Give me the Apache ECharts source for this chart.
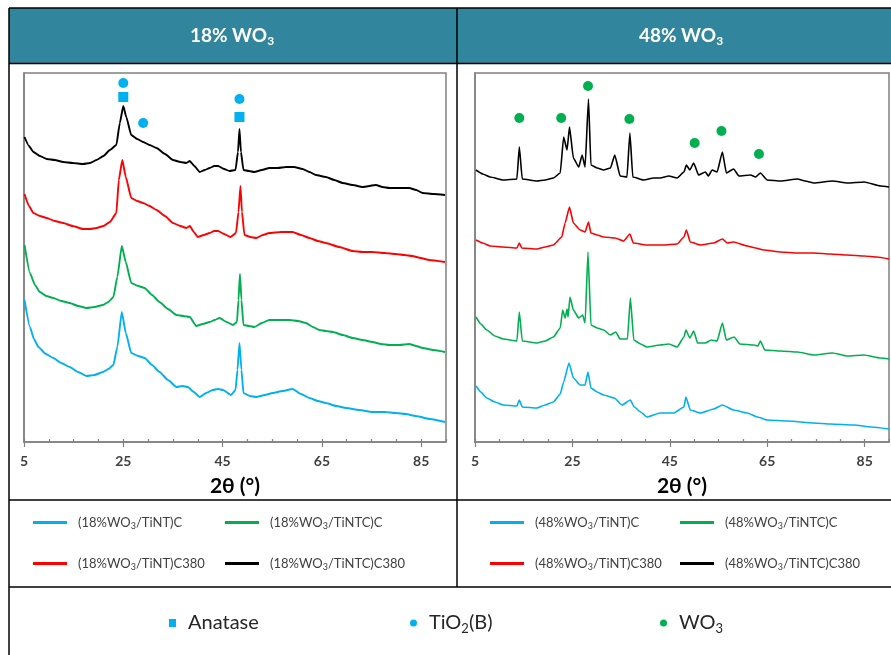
<!DOCTYPE html>
<html>
<head>
<meta charset="utf-8">
<script src="https://cdn.jsdelivr.net/npm/echarts@6/dist/echarts.min.js"></script>
<style>
    html, body {margin: 0; padding: 0; background: #fff;}
    #main {width: 891px; height: 655px;}
</style>
</head>
<body>
<div id="main"></div>
<script>
// x = 2θ (°), y = intensity (a.u., curves offset as in the figure)
var aTicks = [5, 25, 45, 65, 85];

// 18% WO3 panel
var a18TiNTC380 = [[5.1,305],[6.0,296],[6.9,290],[8.2,286],[9.6,283],[11.2,282],[12.9,280],[14.8,279],[16.9,278],[18.3,279],[19.6,282],[21.0,286],[22.3,292],[23.6,297],[24.3,319],[25.0,336],[25.6,325],[26.6,307],[27.8,303],[29.0,300],[30.3,297],[31.7,294],[33.4,288],[35.0,282],[36.5,280],[37.7,279],[38.4,281],[39.3,276],[40.4,270],[41.4,272],[42.4,274],[43.3,276],[44.1,276],[45.3,273],[46.4,271],[47.6,272],[48.1,290],[48.4,313],[48.7,290],[49.2,272],[50.3,271],[51.4,270],[52.9,272],[54.4,274],[56.1,274],[57.8,275],[59.4,275],[61.1,273],[62.5,270],[63.8,267],[65.8,265],[67.5,262],[69.2,259],[71.2,257],[73.2,255],[75.9,257],[77.2,255],[78.6,254],[80.6,254],[82.6,254],[84.0,252],[85.3,249],[87.5,248],[89.8,247]];
var a18TiNT380 = [[5.1,248],[6.0,236],[6.9,229],[8.2,226],[9.6,224],[11.2,221],[12.9,219],[14.8,216],[16.9,213],[18.3,213],[19.6,214],[21.0,216],[22.3,220],[23.6,229],[24.1,262],[24.8,282],[25.5,265],[26.6,244],[27.8,241],[29.0,239],[30.3,236],[31.7,232],[33.4,226],[35.0,219],[36.5,216],[37.7,214],[38.4,216],[39.2,210],[40.0,205],[41.2,207],[42.4,209],[43.3,211],[44.1,211],[45.3,208],[46.6,205],[47.7,209],[48.2,230],[48.6,256],[48.9,230],[49.4,207],[50.6,205],[51.8,204],[53.1,207],[54.4,209],[56.8,210],[59.1,210],[60.8,207],[62.5,204],[64.2,201],[65.8,199],[68.5,195],[71.2,191],[73.2,190],[75.2,190],[77.6,189],[79.9,188],[81.6,187],[83.2,186],[84.9,184],[86.6,182],[89.8,180]];
var a18TiNTC = [[5.1,197],[6.2,169],[7.2,157],[8.2,150],[9.5,146],[10.9,144],[12.5,141],[14.2,139],[15.9,136],[17.6,134],[19.2,135],[20.9,137],[22.0,140],[23.0,145],[23.8,165],[24.7,196],[25.5,180],[26.6,159],[28.0,156],[29.3,154],[30.8,147],[32.3,140],[34.0,133],[35.7,127],[37.1,126],[38.4,125],[39.7,116],[41.0,118],[42.4,120],[43.4,122],[44.4,124],[45.8,120],[47.1,117],[47.9,120],[48.2,142],[48.5,168],[48.8,142],[49.2,117],[50.3,116],[51.4,115],[52.9,119],[54.4,122],[56.5,122],[58.5,122],[60.2,121],[61.8,119],[63.2,115],[64.5,112],[65.8,111],[67.2,110],[69.2,107],[71.2,104],[73.2,102],[75.2,100],[76.9,98],[78.6,97],[80.6,97],[82.6,98],[84.0,96],[85.3,94],[87.5,92],[89.8,90]];
var a18TiNT = [[5.1,142],[6.2,115],[7.0,103],[7.9,95],[9.4,88],[10.9,84],[12.5,79],[14.2,75],[15.9,70],[17.6,66],[19.2,67],[20.9,70],[22.0,73],[23.0,77],[23.8,95],[24.7,130],[25.5,109],[26.6,89],[28.0,86],[29.3,84],[30.8,77],[32.3,70],[34.0,62],[35.7,55],[36.9,56],[38.0,55],[39.2,50],[40.4,45],[41.7,49],[43.0,52],[44.1,53],[45.1,52],[46.7,47],[47.6,52],[48.0,72],[48.4,99],[48.8,72],[49.2,49],[50.5,46],[51.8,45],[53.5,47],[55.1,49],[57.1,51],[59.1,53],[60.8,48],[62.5,44],[64.2,41],[65.8,39],[67.9,36],[69.9,34],[72.5,32],[75.2,30],[77.6,30],[79.9,29],[81.9,28],[83.9,26],[86.8,23],[89.8,20]];
var aAnatase = [[25.0,345],[48.4,325]];
var aTiO2B = [[25.0,359],[29.0,319],[48.4,343]];

// 48% WO3 panel
var a48TiNTC380 = [[5.2,272],[6.6,268],[8.1,265],[10.8,262],[13.6,263],[14.1,295],[14.7,263],[17.7,261],[19.4,262],[21.1,264],[22.5,269],[23.2,305],[23.9,292],[24.4,315],[25.2,284],[26.3,275],[27.0,287],[27.6,275],[28.3,343],[28.8,277],[30.1,274],[31.4,272],[32.8,274],[33.7,287],[34.8,266],[36.2,265],[36.8,309],[37.4,265],[39.6,262],[41.7,264],[43.0,264],[44.8,266],[46.5,264],[47.9,270],[48.4,277],[49.1,272],[49.9,279],[50.9,267],[52.3,270],[52.9,266],[53.7,272],[54.7,270],[55.8,290],[56.6,269],[58.1,273],[59.2,266],[61.6,267],[62.6,265],[63.6,269],[65.0,262],[67.8,261],[71.2,263],[72.8,261],[74.6,259],[78.4,261],[81.5,259],[84.9,260],[88.3,256],[90,255]];
var a48TiNT380 = [[5.2,202],[6.6,199],[8.1,196],[10.8,195],[13.6,194],[14.1,199],[14.6,194],[17.7,193],[19.4,195],[21.1,197],[22.8,205],[23.5,219],[24.4,235],[25.2,219],[26.6,212],[27.6,210],[28.3,220],[28.8,209],[30.1,207],[31.4,205],[33.8,204],[35.5,201],[36.8,208],[37.5,199],[40.2,197],[43.6,197],[46.5,198],[47.9,205],[48.4,212],[49.2,200],[51.3,197],[54.0,199],[55.8,203],[56.8,199],[58.1,200],[60.9,196],[62.6,194],[64.3,192],[67.8,190],[71.2,189],[74.6,189],[78.0,188],[81.5,187],[84.9,186],[87.5,185],[90,183]];
var a48TiNTC = [[5.2,125],[6.2,118],[7.4,112],[9.1,106],[10.8,103],[13.6,101],[14.1,130],[14.7,101],[17.7,99],[19.4,101],[21.1,105],[22.5,114],[23.0,132],[23.5,124],[23.9,133],[24.1,125],[24.5,145],[25.2,132],[26.3,124],[27.1,127],[27.6,119],[28.2,190],[28.8,117],[30.1,114],[31.4,112],[32.8,107],[33.9,110],[34.8,103],[36.3,103],[36.9,144],[37.6,102],[39.0,98],[40.3,95],[43.0,97],[44.8,98],[46.5,95],[47.9,105],[48.3,112],[49.1,104],[49.9,111],[50.7,99],[52.3,99],[53.5,102],[54.7,101],[55.8,119],[56.6,102],[58.2,105],[59.4,98],[62.3,97],[63.1,96],[63.6,101],[64.5,92],[67.8,91],[71.2,90],[74.6,87],[78.4,89],[81.5,86],[84.8,87],[88.3,84],[90,83]];
var a48TiNT = [[5.2,56],[6.2,50],[7.4,44],[9.1,40],[10.8,37],[13.6,36],[14.1,42],[14.7,35],[17.7,34],[19.4,37],[21.1,40],[22.5,48],[23.2,60],[24.3,79],[25.2,64],[26.6,57],[27.6,57],[28.2,70],[28.8,54],[30.1,50],[31.4,47],[33.6,44],[35.2,37],[36.9,42],[37.7,35],[39.0,30],[40.3,25],[43.0,29],[45.8,29],[47.9,35],[48.3,45],[49.2,32],[51.3,29],[54.0,33],[55.8,37],[58.1,32],[60.9,29],[63.0,25],[65.0,22],[69.2,21],[74.6,19],[78.0,18],[82.8,17],[86.4,15],[90,13]];
var aWO3 = [[14.1,324],[22.7,324],[28.2,356],[36.7,323],[50.1,299],[55.6,311],[63.3,288]];

var sFont = 'Lato, "Open Sans", sans-serif';
var sBlue = '#00b0f0', sGreen = '#00b050', sRed = '#ff0000', sBlack = '#000000';

function FormatName(sName) {
    return sName.replace('WO3', 'WO{sub|3}').replace('TiO2', 'TiO{sub|2}');
}

function LineSeries(sName, aData, sColor, iPanel) {
    return {
        name: sName,
        type: 'line',
        xAxisIndex: iPanel * 2,
        yAxisIndex: iPanel,
        data: aData,
        symbol: 'none',
        smooth: 0.15,
        smoothMonotone: 'x',
        lineStyle: {color: sColor, width: iPanel == 0 ? 1.9 : 1.6},
        itemStyle: {color: sColor},
        animation: false
    };
}

function MarkSeries(sName, aData, sColor, sSymbol, iPanel) {
    return {
        name: sName,
        type: 'scatter',
        xAxisIndex: iPanel * 2,
        yAxisIndex: iPanel,
        data: aData,
        symbol: sSymbol,
        symbolSize: 10,
        itemStyle: {color: sColor, opacity: 1},
        z: 5,
        animation: false
    };
}

function XAxes(iGrid) {
    return [
        {
            gridIndex: iGrid, type: 'value', min: 5, max: 90, interval: 20,
            name: '2θ (°)', nameLocation: 'middle', nameGap: 34,
            nameTextStyle: {fontFamily: sFont, fontSize: 21, fontWeight: 'bold', color: '#000'},
            axisLine: {onZero: false, lineStyle: {color: '#808080', width: 1.5}},
            axisTick: {length: 5, lineStyle: {color: '#808080', width: 1.2}},
            axisLabel: {showMaxLabel: false, margin: 12, fontFamily: sFont, fontSize: 14, fontWeight: 'bold', color: '#404040'},
            splitLine: {show: false}
        },
        {
            gridIndex: iGrid, type: 'value', min: 5, max: 90, interval: 5,
            axisLine: {show: false},
            axisTick: {length: 3, lineStyle: {color: '#808080', width: 1.2}},
            axisLabel: {show: false},
            splitLine: {show: false}
        }
    ];
}

function YAxis(iGrid) {
    return {
        gridIndex: iGrid, type: 'value', min: 0, max: 369,
        axisLine: {show: true, lineStyle: {color: '#808080', width: 1.5}},
        axisTick: {show: false}, axisLabel: {show: false}, splitLine: {show: false}
    };
}

function LegendItem(sName, iLeft, iTop, iSize) {
    var bBig = iSize > 15;
    return {
        data: [{name: sName, icon: bBig ? (sName == 'Anatase' ? 'rect' : 'circle') : 'rect'}],
        left: iLeft, top: iTop, padding: 0,
        itemWidth: bBig ? 7 : 34, itemHeight: bBig ? 8 : 3,
        selectedMode: false,
        formatter: FormatName,
        textStyle: {
            fontFamily: sFont, fontSize: iSize, color: bBig ? '#262626' : '#404040',
            padding: [0, 0, 0, bBig ? 7 : 6],
            rich: {sub: {fontFamily: sFont, fontSize: bBig ? 13 : 9, color: bBig ? '#262626' : '#404040', padding: [bBig ? 11 : 8, 0, 0, 0]}}
        }
    };
}

function HeaderText(iX, sPct) {
    return {
        type: 'text', x: iX, y: 36, z: 10,
        style: {
            text: '{m|' + sPct + ' WO}{s|3}',
            align: 'center', verticalAlign: 'middle',
            rich: {
                m: {fontFamily: sFont, fontSize: 19, fontWeight: 'bold', fill: '#fff', color: '#fff'},
                s: {fontFamily: sFont, fontSize: 12, fontWeight: 'bold', fill: '#fff', color: '#fff', padding: [10, 0, 0, 0]}
            }
        }
    };
}

function Rule(x1, y1, x2, y2) {
    return {type: 'line', z: 10, shape: {x1: x1, y1: y1, x2: x2, y2: y2}, style: {stroke: '#000', lineWidth: 1.5}};
}

function GetOption() {
    var aSeries = [
        LineSeries('(18%WO3/TiNT)C', a18TiNT, sBlue, 0),
        LineSeries('(18%WO3/TiNTC)C', a18TiNTC, sGreen, 0),
        LineSeries('(18%WO3/TiNT)C380', a18TiNT380, sRed, 0),
        LineSeries('(18%WO3/TiNTC)C380', a18TiNTC380, sBlack, 0),
        LineSeries('(48%WO3/TiNT)C', a48TiNT, sBlue, 1),
        LineSeries('(48%WO3/TiNTC)C', a48TiNTC, sGreen, 1),
        LineSeries('(48%WO3/TiNT)C380', a48TiNT380, sRed, 1),
        LineSeries('(48%WO3/TiNTC)C380', a48TiNTC380, sBlack, 1),
        MarkSeries('Anatase', aAnatase, sBlue, 'rect', 0),
        MarkSeries('TiO2(B)', aTiO2B, sBlue, 'circle', 0),
        MarkSeries('WO3', aWO3, sGreen, 'circle', 1)
    ];
    return {
        backgroundColor: '#fff',
        textStyle: {fontFamily: sFont},
        grid: [
            {left: 24, top: 73, width: 422, height: 369, show: true, borderColor: '#808080', borderWidth: 1.5},
            {left: 475, top: 73, width: 414, height: 369, show: true, borderColor: '#808080', borderWidth: 1.5}
        ],
        xAxis: XAxes(0).concat(XAxes(1)),
        yAxis: [YAxis(0), YAxis(1)],
        legend: [
            LegendItem('(18%WO3/TiNT)C', 33, 516, 13),
            LegendItem('(18%WO3/TiNTC)C', 225, 516, 13),
            LegendItem('(18%WO3/TiNT)C380', 33, 557, 13),
            LegendItem('(18%WO3/TiNTC)C380', 225, 557, 13),
            LegendItem('(48%WO3/TiNT)C', 490, 516, 13),
            LegendItem('(48%WO3/TiNTC)C', 680, 516, 13),
            LegendItem('(48%WO3/TiNT)C380', 490, 557, 13),
            LegendItem('(48%WO3/TiNTC)C380', 680, 557, 13),
            LegendItem('Anatase', 169, 613, 20),
            LegendItem('TiO2(B)', 410, 613, 20),
            LegendItem('WO3', 660, 613, 20)
        ],
        graphic: [
            {type: 'rect', z: 1, shape: {x: 9, y: 8, width: 882, height: 55}, style: {fill: '#31859c'}},
            HeaderText(232, '18%'),
            HeaderText(681, '48%'),
            Rule(9, 8, 891, 8),
            Rule(9, 63.5, 891, 63.5),
            Rule(9, 8, 9, 655),
            Rule(457, 8, 457, 587),
            Rule(9, 500, 891, 500),
            Rule(9, 587, 891, 587)
        ],
        series: aSeries
    };
}

var myChart = echarts.init(document.getElementById('main'));
myChart.setOption(GetOption());
</script>
</body>
</html>
